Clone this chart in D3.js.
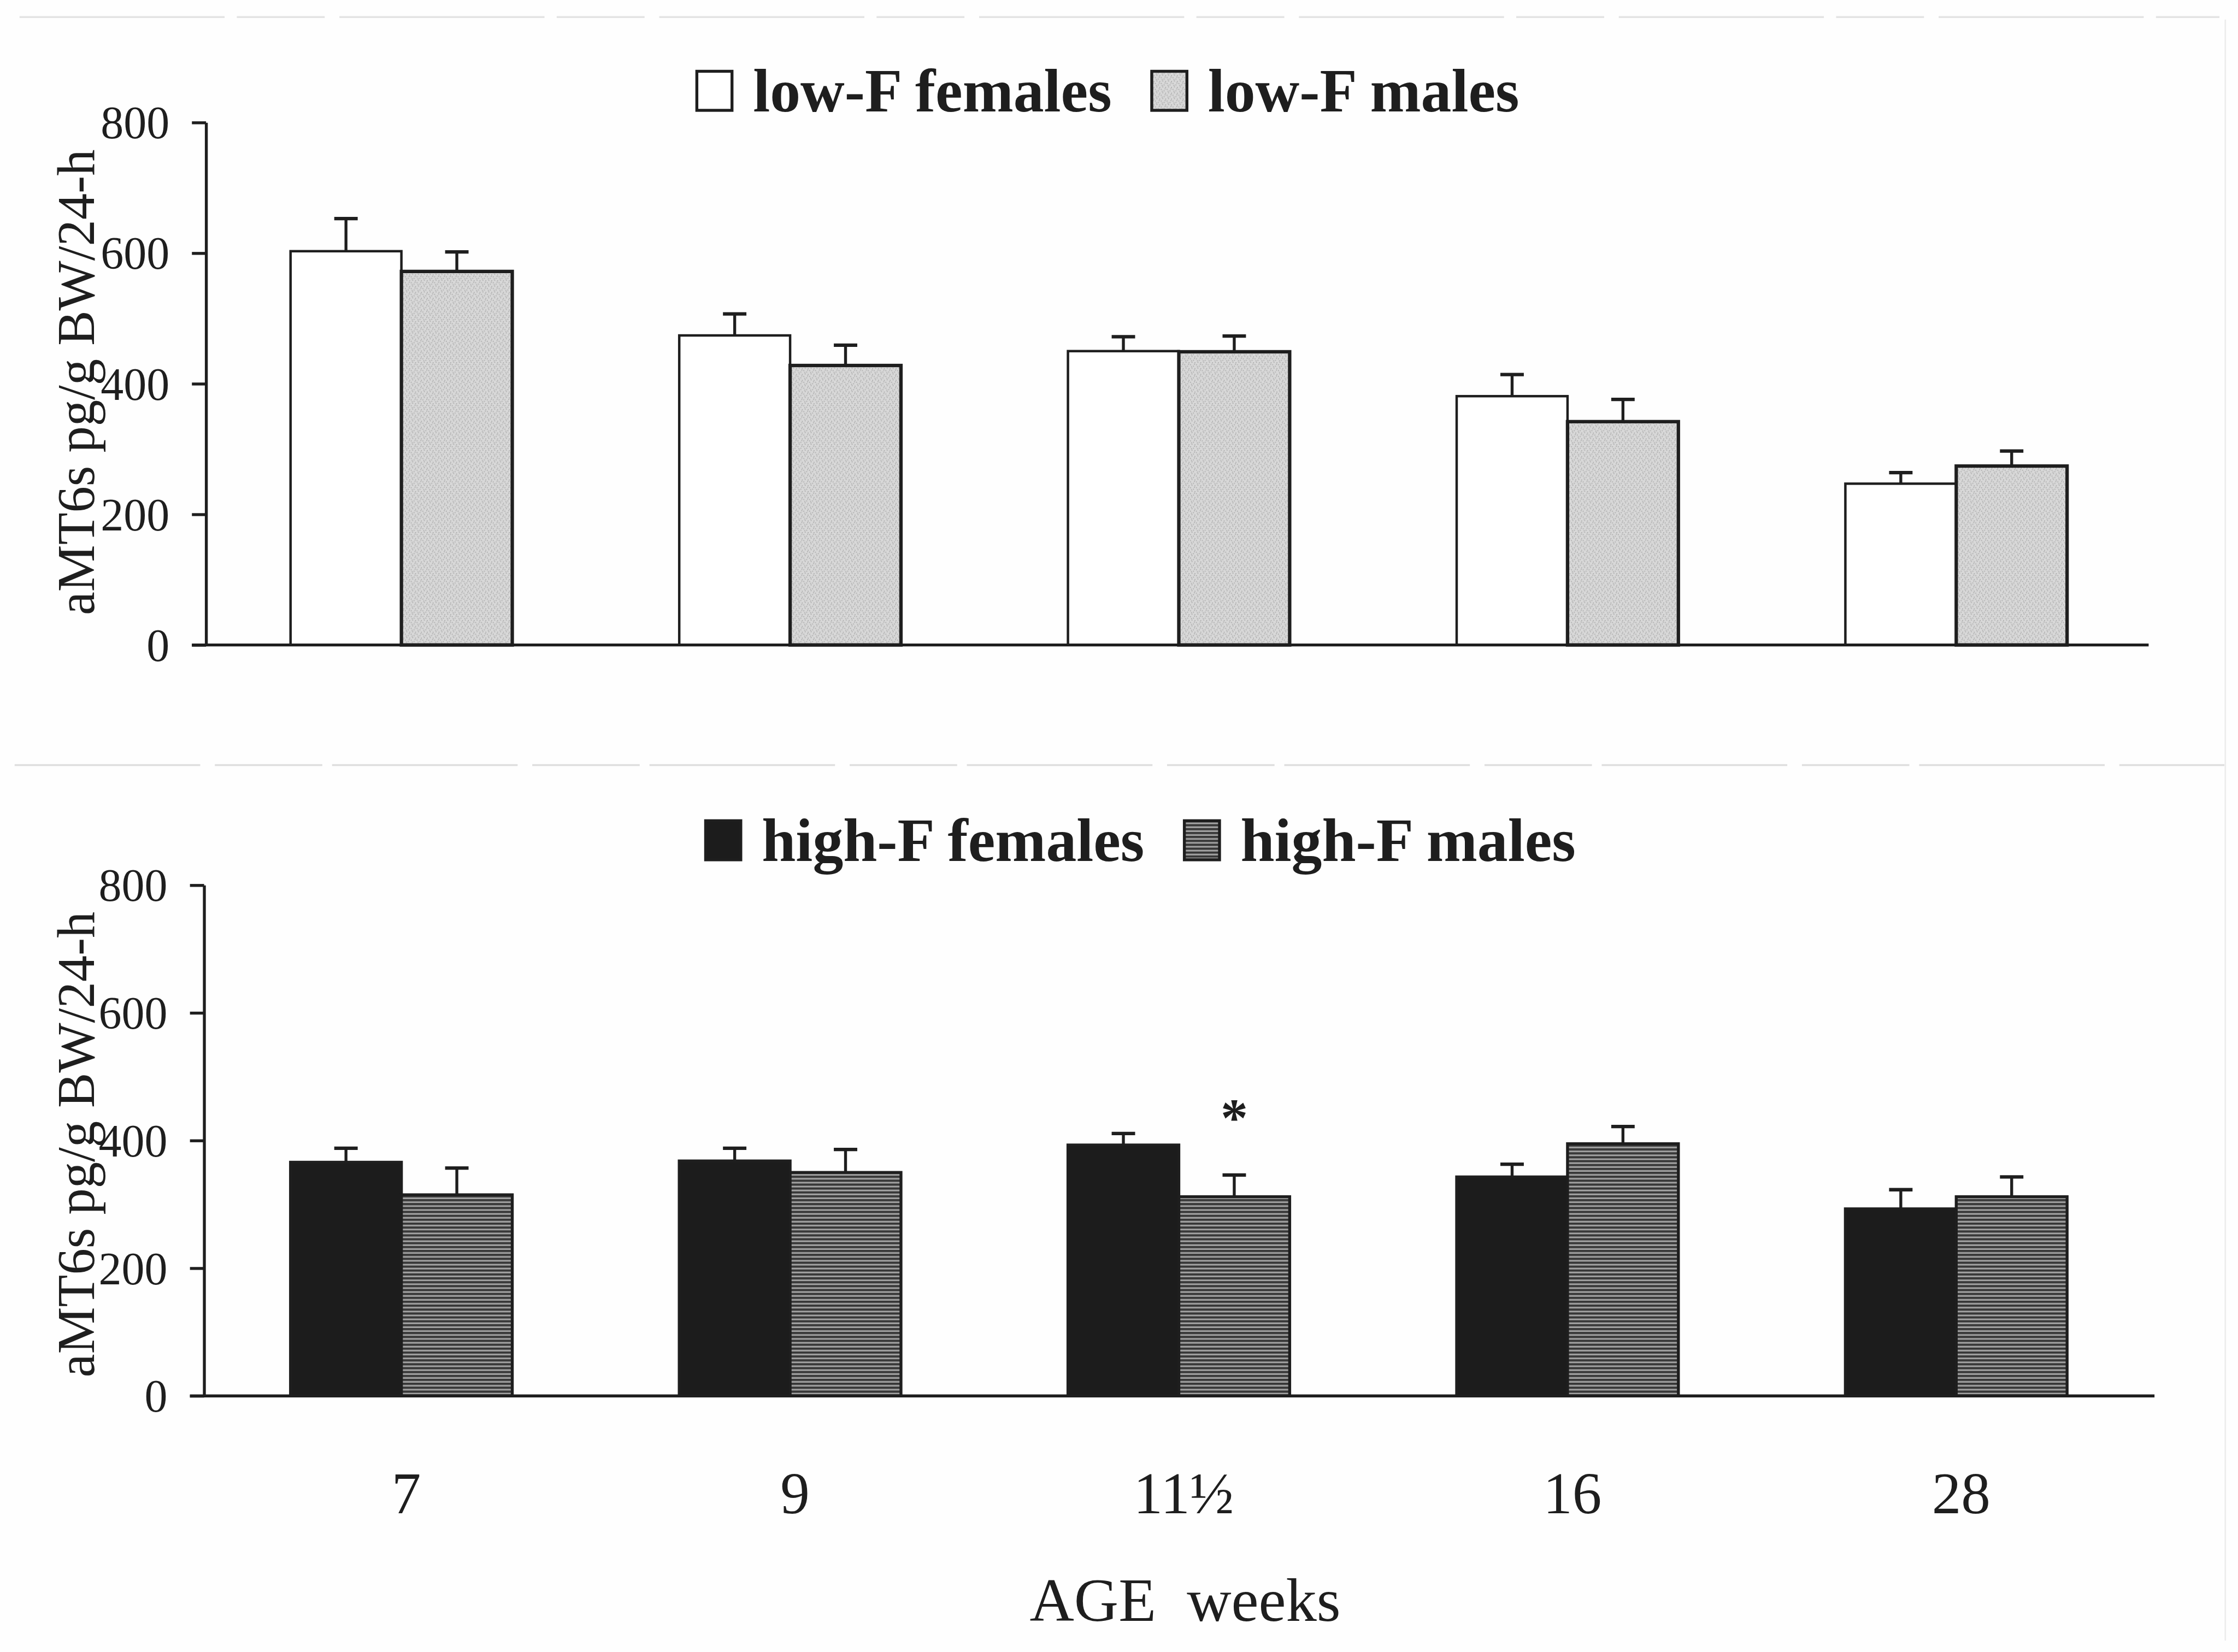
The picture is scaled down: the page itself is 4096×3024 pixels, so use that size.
<!DOCTYPE html>
<html>
<head>
<meta charset="utf-8">
<script src="https://cdn.jsdelivr.net/npm/d3@7"></script>
<style>
  html, body { margin: 0; padding: 0; background: #fefefe; }
  svg { display: block; }
  text { font-family: "Liberation Serif", "Times New Roman", serif; fill: #1e1e1e; }
</style>
</head>
<body>
<svg id="chart" width="4096" height="3024"></svg>
<script>
// Age groups (weeks) on the shared x axis
const ages = ["7", "9", "11½", "16", "28"];
const yTicks = [0, 200, 400, 600, 800];

// aMT6s excretion, pg/g body weight per 24 h (mean and SEM)
const lowFemales   = [603, 474, 450, 381, 247];
const lowFemalesSE = [50, 33, 22, 33, 17];
const lowMales     = [572, 428, 449, 342, 274];
const lowMalesSE   = [30, 31, 24, 34, 23];

const highFemales   = [366, 368, 393, 343, 293];
const highFemalesSE = [22, 20, 18, 20, 30];
const highMales     = [315, 350, 312, 395, 312];
const highMalesSE   = [42, 36, 34, 27, 31];

// significant difference marker (index into ages, series)
const starAge = "11½";

const yLabel = "aMT6s pg/g BW/24-h";
const xLabel = "AGE  weeks";

// ---------------------------------------------------------------
const W = 4583, H = 3383;
const svg = d3.select("#chart");
const root = svg.append("g").attr("transform", `scale(${4096 / W})`);

const ink = "#1e1e1e";

// fill textures
const defs = svg.append("defs");
const stip = defs.append("pattern").attr("id", "stipple")
  .attr("patternUnits", "userSpaceOnUse").attr("width", 12).attr("height", 12);
stip.append("rect").attr("width", 12).attr("height", 12).attr("fill", "#d8d8d8");
[[1, 2], [7, 5], [4, 9], [10, 10], [9, 1], [3, 6]].forEach(([a, b]) =>
  stip.append("rect").attr("x", a).attr("y", b).attr("width", 2).attr("height", 2).attr("fill", "#a9a9a9"));

const stripes = defs.append("pattern").attr("id", "stripes")
  .attr("patternUnits", "userSpaceOnUse").attr("width", 8).attr("height", 8);
stripes.append("rect").attr("width", 8).attr("height", 8).attr("fill", "#a2a2a2");
stripes.append("rect").attr("width", 8).attr("height", 4.5).attr("fill", "#383838");

// faint page edges of the printed figure
root.append("line").attr("x1", 40).attr("x2", 4545).attr("y1", 35).attr("y2", 35)
  .attr("stroke", "#e3e3e3").attr("stroke-width", 4).attr("stroke-dasharray", "420 25 180 30");
root.append("line").attr("x1", 30).attr("x2", 4555).attr("y1", 1567).attr("y2", 1567)
  .attr("stroke", "#dedede").attr("stroke-width", 4).attr("stroke-dasharray", "380 30 220 20");
root.append("line").attr("x1", 4557).attr("x2", 4557).attr("y1", 40).attr("y2", 3360)
  .attr("stroke", "#ececec").attr("stroke-width", 3);

// shared x placement of the age groups
const x = d3.scaleBand().domain(ages).range([424, 4404])
  .paddingInner(0.4296).paddingOuter(0.2148);
const xSex = d3.scaleBand().domain(["F", "M"]).range([0, x.bandwidth()]);

const panels = [
  {
    y0: 1321, y1: 251, axisX: 422, xEnd: 4400,
    series: [
      { key: "F", name: "low-F females", vals: lowFemales, se: lowFemalesSE, fill: "#ffffff", sw: 5 },
      { key: "M", name: "low-F males", vals: lowMales, se: lowMalesSE, fill: "url(#stipple)", sw: 7 }
    ],
    legend: { x: 1427, base: 228 },
    labelDy: -3
  },
  {
    y0: 2859, y1: 1813, axisX: 418, xEnd: 4412,
    series: [
      { key: "F", name: "high-F females", vals: highFemales, se: highFemalesSE, fill: "#1c1c1c", sw: 6 },
      { key: "M", name: "high-F males", vals: highMales, se: highMalesSE, fill: "url(#stripes)", sw: 6 }
    ],
    legend: { x: 1445, base: 1763 },
    labelDy: 8,
    star: true
  }
];

panels.forEach(p => {
  const y = d3.scaleLinear().domain([0, 800]).range([p.y0, p.y1]);
  const g = root.append("g");

  // bars
  p.series.forEach(s => {
    const gs = g.append("g");
    gs.selectAll("rect").data(ages).join("rect")
      .attr("x", d => x(d) + xSex(s.key))
      .attr("y", (d, i) => y(s.vals[i]))
      .attr("width", xSex.bandwidth())
      .attr("height", (d, i) => y(0) - y(s.vals[i]))
      .attr("fill", s.fill)
      .attr("stroke", ink).attr("stroke-width", s.sw);

    // SEM bars (upper half only)
    const cx = d => x(d) + xSex(s.key) + xSex.bandwidth() / 2;
    gs.selectAll("line.err").data(ages).join("line").attr("class", "err")
      .attr("x1", cx).attr("x2", cx)
      .attr("y1", (d, i) => y(s.vals[i]))
      .attr("y2", (d, i) => y(s.vals[i] + s.se[i]))
      .attr("stroke", ink).attr("stroke-width", 6);
    gs.selectAll("line.cap").data(ages).join("line").attr("class", "cap")
      .attr("x1", d => cx(d) - 24).attr("x2", d => cx(d) + 24)
      .attr("y1", (d, i) => y(s.vals[i] + s.se[i]))
      .attr("y2", (d, i) => y(s.vals[i] + s.se[i]))
      .attr("stroke", ink).attr("stroke-width", 7);
  });

  // x axis line
  g.append("line").attr("x1", p.axisX - 29).attr("x2", p.xEnd)
    .attr("y1", y(0)).attr("y2", y(0))
    .attr("stroke", ink).attr("stroke-width", 6);

  // y axis
  const ax = g.append("g").attr("transform", `translate(${p.axisX},0)`)
    .call(d3.axisLeft(y).tickValues(yTicks).tickSize(29).tickSizeOuter(0).tickPadding(46));
  ax.select(".domain").attr("stroke", ink).attr("stroke-width", 6);
  ax.selectAll(".tick line").attr("stroke", ink).attr("stroke-width", 6);
  ax.selectAll(".tick text")
    .attr("font-family", "Liberation Serif, Times New Roman, serif")
    .attr("font-size", 94).attr("fill", ink).attr("dy", "0.34em");
  ax.attr("font-family", null).attr("font-size", null);

  // y axis title
  g.append("text")
    .attr("transform", `translate(192,${(p.y0 + p.y1) / 2 + p.labelDy}) rotate(-90)`)
    .attr("text-anchor", "middle")
    .attr("font-size", 108)
    .text(yLabel);

  // legend
  let lx = p.legend.x;
  p.series.forEach(s => {
    g.append("rect")
      .attr("x", lx).attr("y", p.legend.base - 82)
      .attr("width", 72).attr("height", 80)
      .attr("fill", s.fill).attr("stroke", ink).attr("stroke-width", 6);
    const t = g.append("text")
      .attr("x", lx + 115).attr("y", p.legend.base)
      .attr("font-size", 125).attr("font-weight", "bold")
      .text(s.name);
    lx = lx + 115 + t.node().getComputedTextLength() + 82;
  });

  // significance marker
  if (p.star) {
    const i = ages.indexOf(starAge);
    const s = p.series[1];
    g.append("text")
      .attr("x", x(starAge) + xSex("M") + xSex.bandwidth() / 2)
      .attr("y", y(s.vals[i] + s.se[i]) - 80)
      .attr("text-anchor", "middle")
      .attr("font-size", 112).attr("font-weight", "bold")
      .text("*");
  }

  // x tick labels under the lower panel
  if (p.star) {
    const bx = g.append("g").attr("transform", `translate(10,${y(0)})`)
      .call(d3.axisBottom(x).tickSize(0).tickPadding(155));
    bx.select(".domain").remove();
    bx.selectAll(".tick text")
      .attr("font-family", "Liberation Serif, Times New Roman, serif")
      .attr("font-size", 120).attr("fill", ink);
    bx.attr("font-family", null).attr("font-size", null);
  }
});

// x axis title
root.append("text")
  .attr("x", 2427).attr("y", 3320)
  .attr("text-anchor", "middle")
  .attr("font-size", 126)
  .style("white-space", "pre")
  .text(xLabel);
</script>
</body>
</html>
